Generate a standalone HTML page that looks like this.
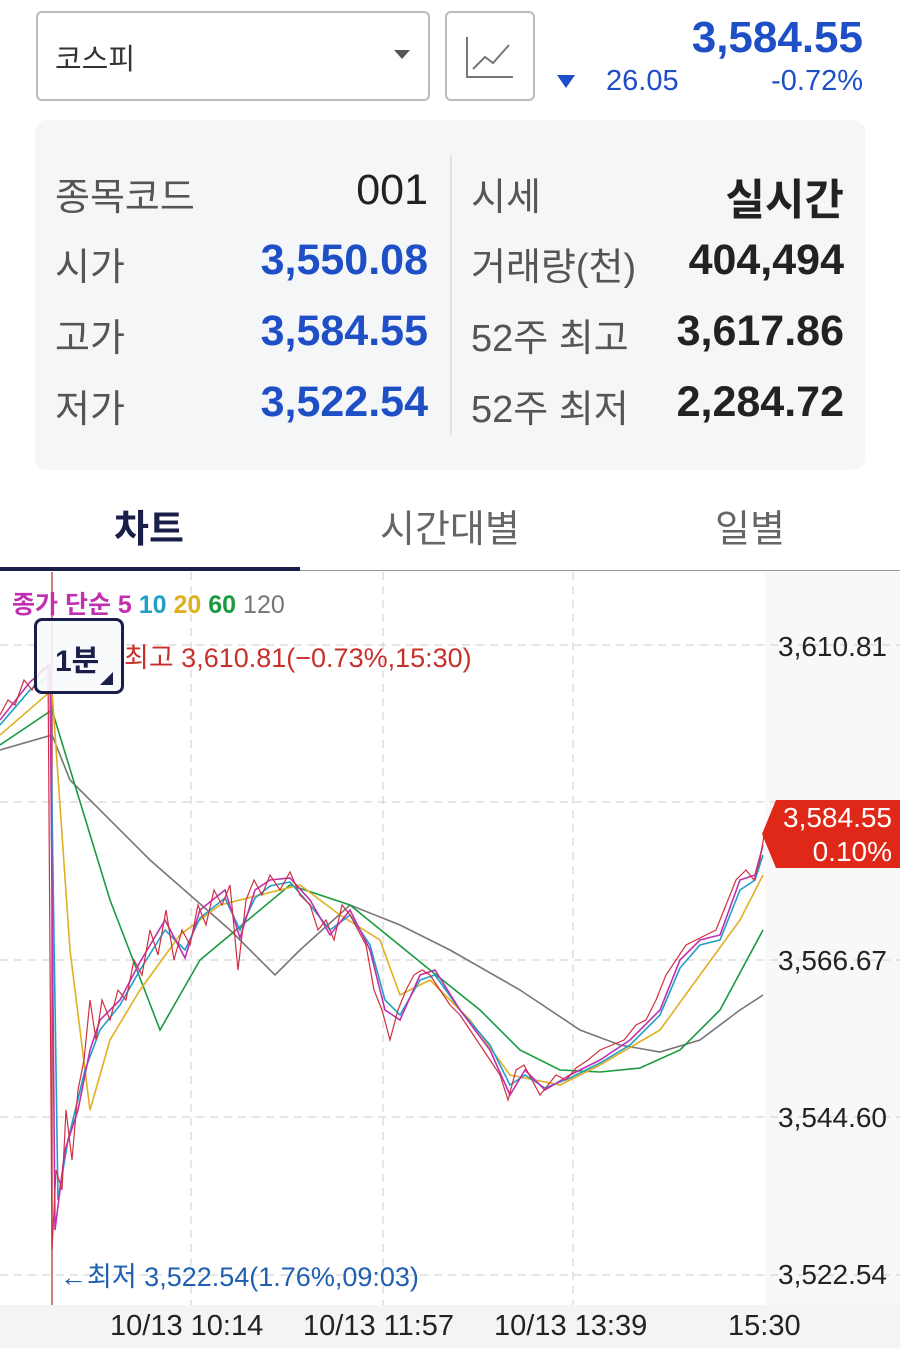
<!DOCTYPE html>
<html><head><meta charset="utf-8"><style>
body{margin:0;width:900px;height:1348px;background:#fff;font-family:"Liberation Sans","Noto Sans CJK KR",sans-serif;position:relative;overflow:hidden}
.a{position:absolute;white-space:nowrap}
.lab{color:#555;font-size:38px}
.vb{color:#1f4fc7;font-size:43px;font-weight:bold}
.vd{color:#222;font-size:43px;font-weight:bold}
</style></head><body>
<div class="a" style="left:36px;top:11px;width:390px;height:86px;border:2px solid #bbb;border-radius:6px"></div>
<div class="a" style="left:55px;top:36px;font-size:29px;color:#333">코스피</div>
<div class="a" style="left:394px;top:50px;width:0;height:0;border-left:8px solid transparent;border-right:8px solid transparent;border-top:9px solid #555"></div>
<div class="a" style="left:445px;top:11px;width:86px;height:86px;border:2px solid #bbb;border-radius:6px"></div>
<svg class="a" style="left:465px;top:35px" width="50" height="45"><path d="M2 2V42H48" stroke="#777" stroke-width="2" fill="none"/><path d="M8 34L20 22L28 28L44 10" stroke="#777" stroke-width="2" fill="none"/></svg>
<div class="a" style="left:557px;top:75px;width:0;height:0;border-left:9px solid transparent;border-right:9px solid transparent;border-top:13px solid #1f4fc7"></div>
<div class="a" style="left:606px;top:65px;font-size:29px;color:#1f4fc7">26.05</div>
<div class="a" style="right:37px;top:13px;font-size:44px;color:#1f4fc7;font-weight:bold">3,584.55</div>
<div class="a" style="right:37px;top:65px;font-size:29px;color:#1f4fc7">-0.72%</div>

<div class="a" style="left:35px;top:120px;width:830px;height:350px;background:#f5f6f8;border-radius:12px"></div>
<div class="a" style="left:450px;top:155px;width:2px;height:280px;background:#e2e2e2"></div>
<div class="a lab" style="left:55px;top:166px">종목코드</div><div class="a vd" style="right:472px;top:166px;font-weight:normal;color:#222">001</div>
<div class="a lab" style="left:471px;top:166px">시세</div><div class="a vd" style="right:56px;top:166px">실시간</div>
<div class="a lab" style="left:55px;top:236px">시가</div><div class="a vb" style="right:472px;top:236px">3,550.08</div>
<div class="a lab" style="left:471px;top:236px">거래량(천)</div><div class="a vd" style="right:56px;top:236px">404,494</div>
<div class="a lab" style="left:55px;top:307px">고가</div><div class="a vb" style="right:472px;top:307px">3,584.55</div>
<div class="a lab" style="left:471px;top:307px">52주 최고</div><div class="a vd" style="right:56px;top:307px">3,617.86</div>
<div class="a lab" style="left:55px;top:378px">저가</div><div class="a vb" style="right:472px;top:378px">3,522.54</div>
<div class="a lab" style="left:471px;top:378px">52주 최저</div><div class="a vd" style="right:56px;top:378px">2,284.72</div>

<div class="a" style="left:114px;top:498px;font-size:38px;font-weight:bold;color:#1a1f4a">차트</div>
<div class="a" style="left:380px;top:498px;font-size:38px;color:#666">시간대별</div>
<div class="a" style="left:715px;top:498px;font-size:38px;color:#666">일별</div>
<div class="a" style="left:0;top:570px;width:900px;height:1px;background:#999"></div>
<div class="a" style="left:0;top:567px;width:300px;height:4px;background:#1a1f4a"></div>

<div class="a" style="left:765px;top:572px;width:135px;height:733px;background:#f8f8f8"></div>
<div class="a" style="left:0;top:1305px;width:900px;height:43px;background:#f4f4f4"></div>
<svg class="a" style="left:0;top:572px" width="900" height="733">
<g stroke="#ccc" stroke-dasharray="8,6" stroke-width="1">
<path d="M0 73H900M0 230H900M0 388H900M0 545H900M0 703H900"/>
<path d="M191 0V733M383 0V733M573 0V733"/>
</g>
<path d="M52 0V733" stroke="#c05050" stroke-width="1.5"/>
<g fill="none" stroke-width="1.6" transform="translate(0,-572)">
<polyline stroke="#777" points="0,750 52,735 70,780 150,860 230,930 275,975 300,950 350,905 400,925 450,950 520,990 580,1030 620,1045 660,1052 700,1040 740,1010 763,995"/>
<polyline stroke="#1a9a40" points="0,745 52,710 110,900 160,1030 200,960 290,885 350,905 430,970 480,1010 520,1050 560,1070 600,1072 640,1068 680,1050 720,1010 763,930"/>
<polyline stroke="#e0b020" points="0,735 52,690 70,950 90,1110 110,1040 140,990 180,935 220,905 260,895 300,885 340,915 380,940 400,995 430,980 470,1020 510,1075 560,1085 600,1065 660,1030 700,975 740,920 763,875"/>
<polyline stroke="#20a0c8" points="0,725 30,690 50,675 58,1200 68,1140 85,1070 100,1030 120,1005 140,970 165,930 185,950 200,918 225,898 240,930 255,898 270,886 290,882 310,905 330,930 350,915 370,945 385,1000 400,1015 420,980 435,975 460,1010 490,1045 510,1085 525,1075 545,1088 570,1078 600,1063 630,1045 660,1015 680,968 700,945 720,940 740,890 755,880 763,855"/>
<polyline stroke="#c030b0" points="0,720 30,682 50,665 55,1230 65,1150 78,1110 90,1050 100,1020 120,1000 140,962 165,920 185,958 200,910 225,890 240,938 255,890 270,880 290,878 310,900 330,935 350,910 370,950 385,1010 400,1020 420,975 435,970 460,1010 490,1050 510,1095 525,1070 545,1090 570,1075 600,1060 630,1040 660,1010 680,960 700,940 720,935 740,880 755,875 763,845"/>
<polyline stroke="#d03040" stroke-width="1.2" points="0,715 8,700 15,705 24,680 32,690 40,672 48,665 52,1250 56,1170 62,1190 66,1110 72,1160 78,1090 84,1060 90,1000 96,1040 102,1000 110,1020 118,990 126,1000 134,960 142,975 150,930 158,955 166,910 174,960 182,930 190,945 198,905 206,925 214,890 222,905 230,885 238,970 246,900 254,880 262,895 270,875 280,890 290,872 300,895 310,905 318,930 326,920 334,940 342,905 350,915 358,930 366,945 374,990 382,1010 390,1040 398,1010 406,990 414,975 422,970 430,975 440,990 450,1005 460,1015 470,1030 480,1045 490,1060 500,1075 508,1100 516,1070 524,1065 532,1080 540,1095 548,1085 556,1075 566,1080 576,1068 588,1060 600,1050 612,1045 624,1040 636,1025 646,1020 656,1000 666,975 676,960 686,945 696,940 706,935 716,930 726,905 736,880 746,870 754,880 760,860 764,835"/>
</g>
</svg>
<div class="a" style="left:12px;top:585px;font-size:25px;font-weight:bold"><span style="color:#c030b0">종가 단순 5</span> <span style="color:#20a0c8">10</span> <span style="color:#e0b020">20</span> <span style="color:#1a9a40">60</span> <span style="color:#777;font-weight:normal">120</span></div>
<div class="a" style="left:34px;top:618px;width:84px;height:70px;border:3px solid #1a1f4a;border-radius:8px;background:rgba(248,249,252,0.9)"></div>
<div class="a" style="left:55px;top:636px;font-size:30px;font-weight:bold;color:#1a1f4a">1분</div>
<div class="a" style="left:100px;top:672px;width:0;height:0;border-left:13px solid transparent;border-bottom:13px solid #1a1f4a"></div>
<div class="a" style="left:124px;top:636px;font-size:27px;color:#c8302a">최고 3,610.81(−0.73%,15:30)</div>
<div class="a" style="left:60px;top:1255px;font-size:27px;color:#2060b0">←최저 3,522.54(1.76%,09:03)</div>
<div class="a" style="left:778px;top:631px;font-size:28px;color:#222">3,610.81</div>
<div class="a" style="left:778px;top:945px;font-size:28px;color:#222">3,566.67</div>
<div class="a" style="left:778px;top:1102px;font-size:28px;color:#222">3,544.60</div>
<div class="a" style="left:778px;top:1259px;font-size:28px;color:#222">3,522.54</div>
<svg class="a" style="left:762px;top:800px" width="138" height="68"><path d="M14 0H138V68H14L0 34Z" fill="#e02818"/></svg>
<div class="a" style="right:8px;top:801px;font-size:28px;color:#fff;text-align:right;line-height:34px">3,584.55<br>0.10%</div>
<div class="a" style="left:110px;top:1310px;font-size:29px;color:#222">10/13 10:14</div>
<div class="a" style="left:303px;top:1310px;font-size:29px;color:#222">10/13 11:57</div>
<div class="a" style="left:494px;top:1310px;font-size:29px;color:#222">10/13 13:39</div>
<div class="a" style="left:728px;top:1310px;font-size:29px;color:#222">15:30</div>
</body></html>
